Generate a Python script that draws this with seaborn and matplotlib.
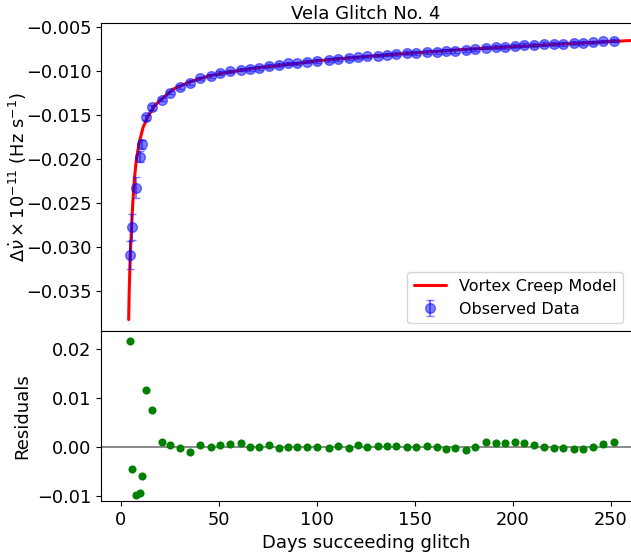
import numpy as np
import pandas as pd
import matplotlib
matplotlib.use("Agg")
import matplotlib.pyplot as plt
import seaborn as sns

# --- data ---
days = [4.6, 5.8, 7.7, 9.7, 10.7, 12.6, 15.7, 20.8, 25.2, 30.1, 35.2, 40.2, 45.9, 50.7,
        55.6, 61.1, 65.7, 70.6, 75.5, 80.8, 85.1, 90.0, 94.7, 100.2, 106.1, 110.9, 116.2,
        120.9, 125.7, 131.3, 135.6, 140.3, 145.9, 150.7, 156.0, 161.1, 165.7, 170.6, 175.9,
        180.6, 186.1, 191.2, 196.1, 200.9, 205.8, 210.7, 216.0, 221.0, 225.7, 231.0, 235.9,
        241.0, 246.1, 251.4]

observed = [-0.0310, -0.0278, -0.0233, -0.0198, -0.0184, -0.0153, -0.0142, -0.0133, -0.0125,
            -0.0119, -0.0114, -0.0109, -0.0106, -0.0103, -0.0101, -0.0099, -0.0098, -0.0097,
            -0.0095, -0.0094, -0.0092, -0.0092, -0.0090, -0.0089, -0.0088, -0.0087, -0.0086,
            -0.0085, -0.0084, -0.0083, -0.0082, -0.0081, -0.0080, -0.0080, -0.0079, -0.0079,
            -0.0078, -0.0078, -0.0077, -0.0076, -0.0074, -0.0073, -0.0073, -0.0072, -0.0071,
            -0.0071, -0.0070, -0.0070, -0.0070, -0.0069, -0.0069, -0.0068, -0.0067, -0.0066]

obs_err = [0.0016, 0.0015, 0.0012, 0.0006, 0.0005, 0.0003, 0.0003, 0.0002, 0.0002, 0.0002,
           0.0002, 0.0002, 0.0002, 0.0002, 0.0002, 0.0002, 0.0002, 0.0002, 0.0002, 0.0002,
           0.0002, 0.0002, 0.0002, 0.0002, 0.0002, 0.0002, 0.0002, 0.0002, 0.0002, 0.0002,
           0.0002, 0.0002, 0.0002, 0.0002, 0.0002, 0.0002, 0.0002, 0.0002, 0.0002, 0.0002,
           0.0002, 0.0002, 0.0002, 0.0002, 0.0002, 0.0002, 0.0002, 0.0002, 0.0002, 0.0002,
           0.0002, 0.0002, 0.0002, 0.0002]

residuals = [0.0216, -0.0046, -0.0099, -0.0095, -0.0059, 0.0115, 0.0074, 0.0010, 0.0003,
             -0.0002, -0.0010, 0.0003, -0.0001, 0.0003, 0.0006, 0.0007, -0.0001, 0.0000,
             0.0003, -0.0003, -0.0001, 0.0000, -0.0001, 0.0000, -0.0002, 0.0001, -0.0002,
             0.0003, -0.0001, 0.0001, 0.0001, 0.0001, 0.0000, -0.0001, 0.0001, -0.0001,
             -0.0005, -0.0003, -0.0006, -0.0001, 0.0010, 0.0008, 0.0008, 0.0010, 0.0007,
             0.0003, -0.0001, -0.0002, -0.0003, -0.0005, -0.0005, 0.0000, 0.0006, 0.0010]

# model curve
model_days = [3.9, 4.2, 4.7, 5.3, 6.0, 6.8, 7.8, 9.2, 11.2, 13.8, 17.5, 21.5, 26.7, 35, 45,
              52, 69, 90, 100, 125, 150, 175, 200, 225, 250, 260]
model_vals = [-0.0383, -0.0350, -0.0312, -0.0281, -0.0251, -0.0224, -0.0202, -0.0183, -0.0165,
              -0.0152, -0.0139, -0.0131, -0.0121, -0.0113, -0.0106, -0.0103, -0.0097, -0.0092,
              -0.0089, -0.0084, -0.0080, -0.0076, -0.0073, -0.0070, -0.0067, -0.0066]

obs_df = pd.DataFrame({'Days': days, 'Observed': observed, 'Err': obs_err, 'Residual': residuals})
model_df = pd.DataFrame({'Days': model_days, 'Model': model_vals})

sns.set_style("ticks", {"axes.edgecolor": "black", "xtick.color": "black", "ytick.color": "black",
                        "text.color": "black", "axes.labelcolor": "black"})
plt.rcParams['font.family'] = ['DejaVu Sans']

fig = plt.figure(figsize=(6.31, 5.54), dpi=100)
left, width = 101.4 / 631, 529.2 / 631
ax1 = fig.add_axes([left, 223 / 554, width, 308 / 554])
ax2 = fig.add_axes([left, 53 / 554, width, 170 / 554])

# --- top panel: model + observed ---
sns.lineplot(data=model_df, x='Days', y='Model', color='red', linewidth=2.2,
             sort=False, label='Vortex Creep Model', ax=ax1)
ax1.errorbar(obs_df['Days'], obs_df['Observed'], yerr=obs_df['Err'], fmt='o', color='blue',
             alpha=0.5, markersize=7, capsize=3, label='Observed Data')
ax1.set_xlim(-10, 260)
ax1.set_ylim(-0.0396, -0.0046)
ax1.set_xticks([])
ax1.set_xlabel('')
ax1.set_ylabel(r'$\Delta\dot{\nu} \times 10^{-11}$ (Hz s$^{-1}$)', fontsize=12.8, labelpad=-2)
ax1.set_title('Vela Glitch No. 4', fontsize=13, pad=2.5)
ax1.tick_params(axis='y', labelsize=12.8)
ax1.legend(loc='lower right', fontsize=11.5)
ax1.spines['right'].set_visible(False)

# --- bottom panel: residuals ---
sns.scatterplot(data=obs_df, x='Days', y='Residual', color='green', s=34, linewidth=0, ax=ax2)
ax2.axhline(0, color='gray', linewidth=1.3, zorder=0)
ax2.set_xlim(-10, 260)
ax2.set_ylim(-0.0111, 0.0236)
ax2.set_yticks([-0.01, 0.0, 0.01, 0.02])
ax2.set_xlabel('Days succeeding glitch', fontsize=13)
ax2.set_ylabel('Residuals', fontsize=13)
ax2.tick_params(labelsize=12.8)
ax2.spines['right'].set_visible(False)

fig.savefig('out.png', dpi=100)
